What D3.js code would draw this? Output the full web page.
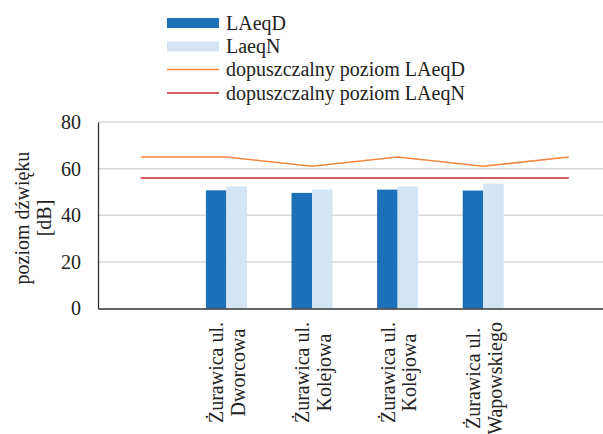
<!DOCTYPE html>
<html>
<head>
<meta charset="utf-8">
<script src="https://cdn.jsdelivr.net/npm/d3@7"></script>
<style>
  html, body { margin: 0; padding: 0; background: #fff; }
  svg { display: block; font-family: "Liberation Serif", "DejaVu Serif", serif; }
</style>
</head>
<body>
<svg id="chart" width="603" height="434"></svg>
<script>
// Measurement points (first and last slots are empty, used only by the limit lines)
const categories = ["", "Żurawica ul.|Dworcowa", "Żurawica ul.|Kolejowa", "Żurawica ul.|Kolejowa", "Żurawica ul.|Wapowskiego", ""];
const laeqD = [null, 50.7, 49.6, 51.0, 50.6, null];
const laeqN = [null, 52.4, 51.0, 52.4, 53.6, null];
const limitD = [65, 65, 61, 65, 61, 65];
const limitN = [56, 56, 56, 56, 56, 56];
const yTicks = [0, 20, 40, 60, 80];
const seriesNames = ["LAeqD", "LaeqN", "dopuszczalny poziom LAeqD", "dopuszczalny poziom LAeqN"];

const colors = { d: "#1c70b8", n: "#d3e4f5", limD: "#f4873f", limN: "#c1272d" };
const textColor = "#222";
const fontSize = 20;

const svg = d3.select("#chart");
const plot = { left: 98, right: 611.6, top: 122, bottom: 308.5 };

const x = d3.scaleBand().domain(d3.range(categories.length)).range([plot.left, plot.right]).padding(0);
const sub = d3.scaleBand().domain(["d", "n"]).range([0, x.bandwidth()]).paddingInner(0).paddingOuter(1.088);
const y = d3.scaleLinear().domain([0, 80]).range([plot.bottom, plot.top]);

// Horizontal gridlines
svg.append("g").selectAll("line").data(yTicks.filter(t => t > 0)).join("line")
  .attr("x1", plot.left).attr("x2", 603)
  .attr("y1", d => y(d)).attr("y2", d => y(d))
  .attr("stroke", "#d9d9d9").attr("stroke-width", 1.5);

// Y axis
const yAxis = svg.append("g").attr("transform", `translate(${plot.left},0)`)
  .call(d3.axisLeft(y).tickValues(yTicks).tickSize(0).tickPadding(17).tickFormat(d3.format("d")));
yAxis.select(".domain").attr("stroke", "#333").attr("stroke-width", 1.3);
yAxis.selectAll("text").attr("font-size", fontSize).attr("fill", textColor)
  .attr("font-family", "Liberation Serif");

// Y axis title
const yTitle = svg.append("text")
  .attr("transform", "translate(0,218) rotate(-90)")
  .attr("text-anchor", "middle").attr("font-size", fontSize).attr("fill", textColor);
yTitle.append("tspan").attr("x", 0).attr("y", 29).text("poziom dźwięku");
yTitle.append("tspan").attr("x", 0).attr("y", 51).text("[dB]");

// Bars
const groups = svg.append("g").selectAll("g").data(categories.map((c, i) => i)).join("g")
  .attr("transform", i => `translate(${x(i)},0)`);
groups.selectAll("rect").data(i => [
    { key: "d", v: laeqD[i] }, { key: "n", v: laeqN[i] }
  ].filter(d => d.v != null)).join("rect")
  .attr("x", d => sub(d.key))
  .attr("width", sub.bandwidth())
  .attr("y", d => y(d.v))
  .attr("height", d => y(0) - y(d.v))
  .attr("fill", d => colors[d.key]);

// X axis baseline
const xAxis = svg.append("g").attr("transform", `translate(0,${plot.bottom})`)
  .call(d3.axisBottom(x).tickSize(0).tickFormat(""));
xAxis.select(".domain").attr("stroke", "#333").attr("stroke-width", 1.6);

// Limit lines through category centres
const cx = i => x(i) + x.bandwidth() / 2;
const line = d3.line().x((d, i) => cx(i)).y(d => y(d));
svg.append("path").datum(limitD).attr("d", line)
  .attr("fill", "none").attr("stroke", colors.limD).attr("stroke-width", 1.6);
svg.append("path").datum(limitN).attr("d", line)
  .attr("fill", "none").attr("stroke", colors.limN).attr("stroke-width", 1.6);

// Rotated two-line category labels
const labelTop = 322;
categories.forEach((c, i) => {
  if (!c) return;
  const lines = c.split("|");
  const g = svg.append("g");
  const texts = lines.map((t, k) => g.append("text")
    .attr("font-size", fontSize).attr("fill", textColor)
    .attr("text-anchor", "middle").text(t));
  const maxLen = d3.max(texts, t => t.node().getComputedTextLength());
  const mid = labelTop + maxLen / 2;
  texts.forEach((t, k) => {
    t.attr("transform", `translate(${cx(i) - 3 + k * 21.5},${mid}) rotate(-90)`);
  });
});

// Legend
const legend = svg.append("g");
const legY = [23, 46.5, 69.5, 93];
seriesNames.forEach((name, k) => {
  const yy = legY[k];
  if (k < 2) {
    legend.append("rect").attr("x", 167).attr("y", yy - 5).attr("width", 52).attr("height", 10)
      .attr("fill", k === 0 ? colors.d : colors.n);
  } else {
    legend.append("line").attr("x1", 167).attr("x2", 219).attr("y1", yy).attr("y2", yy)
      .attr("stroke", k === 2 ? colors.limD : colors.limN).attr("stroke-width", 1.6);
  }
  legend.append("text").attr("x", 226).attr("y", yy + 6.5)
    .attr("font-size", fontSize).attr("fill", textColor).text(name);
});
</script>
</body>
</html>
